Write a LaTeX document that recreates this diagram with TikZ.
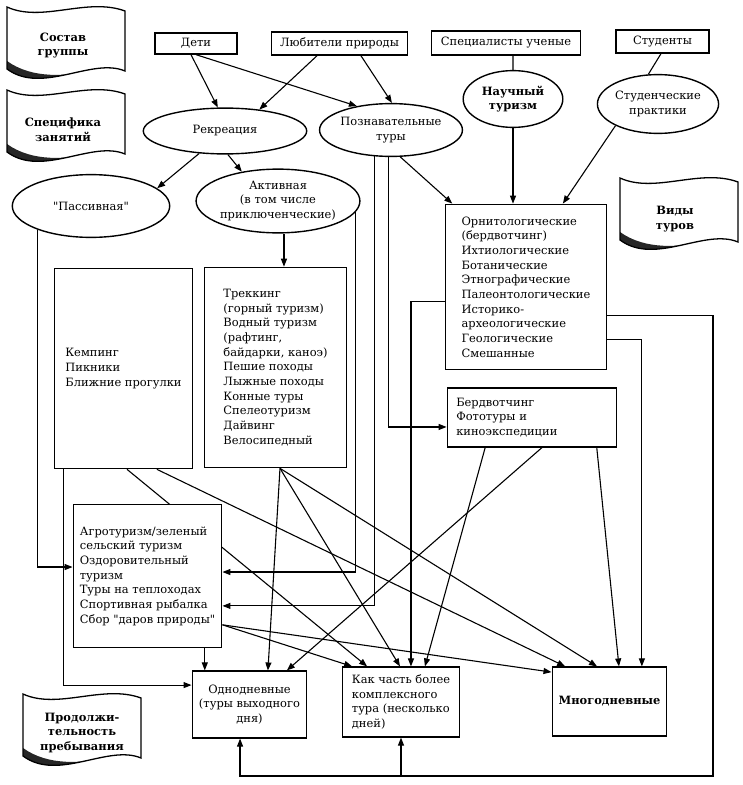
\documentclass[tikz,border=0pt]{standalone}
\usepackage{fontspec}
\setmainfont{DejaVu Serif}
\usetikzlibrary{shapes.geometric,arrows.meta}

\tikzset{
  every node/.style={font=\fontsize{11.5}{14.7}\selectfont},
  tbox/.style={draw, line width=1.4pt, align=left, inner sep=0pt},
  oval/.style={draw, ellipse, line width=1.4pt, align=center, inner sep=0pt},
  flagtext/.style={align=center, font=\fontsize{11.5}{15}\selectfont\bfseries},
  link/.style={line width=1.1pt},
  arr/.style={link, -{Triangle[length=8bp,width=6bp]}},
  flag/.pic={
    \begin{scope}
      \clip (0,2) .. controls (35,18) and (80,-8) .. (118,6) -- (118,66)
        .. controls (85,52) and (35,90) .. (0,64) -- cycle;
      \fill[black!85] (0,56) .. controls (25,74) and (60,72) .. (90,64)
        -- (90,95) -- (0,95) -- cycle;
    \end{scope}
    \draw[line width=1.3pt] (0,2) .. controls (35,18) and (80,-8) .. (118,6) -- (118,66)
      .. controls (85,52) and (35,90) .. (0,64) -- cycle;
  }
}

\begin{document}
\begin{tikzpicture}[x=1bp, y=-1bp]
  \useasboundingbox (0,0) rectangle (743,785);
  %
  % banners
  \pic at (7,5) {flag};
  \node[flagtext] (sostav) at (63,45.5) {Состав\\группы};
  \pic at (7,88) {flag};
  \node[flagtext] (specif) at (63,129.5) {Специфика\\занятий};
  \pic at (620,176) {flag};
  \node[flagtext] (vidy) at (675,219) {Виды\\туров};
  \pic at (23,692) {flag};
  \node[flagtext] (prodol) at (82,733) {Продолжи-\\тельность\\пребывания};
  %
  % top row
  \node[tbox, minimum width=82, minimum height=21] (det) at (196,43.5) {Дети};
  \node[tbox, minimum width=137, minimum height=23] (lyub) at (339.5,43.5) {Любители природы};
  \node[tbox, minimum width=150, minimum height=24] (spec) at (506,43) {Специалисты ученые};
  \node[tbox, minimum width=93, minimum height=23] (stud) at (662.5,41.5) {Студенты};
  %
  % ovals
  \node[oval, minimum width=164, minimum height=46] (rek) at (225,131) {Рекреация};
  \node[oval, minimum width=138, minimum height=53] (poz) at (391,130) {Познавательные\\туры};
  \node[oval, minimum width=100, minimum height=57, font=\fontsize{11.5}{14.7}\selectfont\bfseries] (nauch) at (513,99) {Научный\\туризм};
  \node[oval, minimum width=120, minimum height=59] (studpr) at (658,104) {Студенческие\\практики};
  \node[oval, minimum width=158, minimum height=63] (pass) at (91,206) {\textquotedbl Пассивная\textquotedbl};
  \node[oval, minimum width=154, minimum height=64] (akt) at (278,201) {Активная\\(в том числе\\приключенческие)};
  %
  % lists
  \node[tbox, minimum width=139, minimum height=201] (kemp) at (123.5,368.5)
    {Кемпинг\\Пикники\\Ближние прогулки};
  \node[tbox, minimum width=143, minimum height=201] (trek) at (275.5,367.5)
    {Треккинг\\(горный туризм)\\Водный туризм\\(рафтинг,\\байдарки, каноэ)\\Пешие походы\\Лыжные походы\\Конные туры\\Спелеотуризм\\Дайвинг\\Велосипедный};
  \node[tbox, minimum width=162, minimum height=166] (orn) at (526,287)
    {Орнитологические\\(бердвотчинг)\\Ихтиологические\\Ботанические\\Этнографические\\Палеонтологические\\Историко-\\археологические\\Геологические\\Смешанные};
  \node[tbox, minimum height=59, text width=152, inner xsep=9] (berd) at (532,417.5)
    {Бердвотчинг\\Фототуры и\\киноэкспедиции};
  \node[tbox, minimum width=149, minimum height=144, fill=white] (agro) at (147.5,576)
    {Агротуризм/зеленый\\сельский туризм\\Оздоровительный\\туризм\\Туры на теплоходах\\Спортивная рыбалка\\Сбор \textquotedbl даров природы\textquotedbl};
  %
  % duration
  \node[tbox, align=center, minimum width=115, minimum height=67] (odn) at (249.5,704.5)
    {Однодневные\\(туры выходного\\дня)};
  \node[tbox, minimum width=118, minimum height=70] (kak) at (401,702)
    {Как часть более\\комплексного\\тура (несколько\\дней)};
  \node[tbox, minimum width=115, minimum height=69, font=\fontsize{11.5}{14.7}\selectfont\bfseries] (mnog) at (609.5,701.5)
    {Многодневные};
  %
  \coordinate (loop) at (713,776);
  \coordinate (aktb) at ([xshift=6]akt.south);
  \coordinate (agrob) at ([xshift=57.5]agro.south);
  %
  % top links
  \draw[arr] ([xshift=-5]det.south) -- (rek.107);
  \draw[arr] (det.south) -- (poz.145);
  \draw[arr] ([xshift=-22.5]lyub.south) -- (rek.32);
  \draw[arr] ([xshift=21.5]lyub.south) -- (poz.88);
  \draw[link] ([xshift=7]spec.south) -- (nauch.north);
  \draw[link] ([xshift=-1.5]stud.south) -- (studpr.108);
  \draw[arr] (nauch.south) -- (nauch.south |- orn.north);
  \draw[arr] (studpr.207) -- ([xshift=37]orn.north);
  \draw[arr] (poz.289) -- ([xshift=-74]orn.north);
  \draw[arr] (rek.221) -- (pass.15);
  \draw[arr] (rek.277) -- (akt.141);
  \draw[arr] (aktb) -- (aktb |- trek.north);
  %
  % side links
  \draw[arr] (pass.204) |- ([yshift=9]agro.west);
  \draw[arr] (akt.-8) |- ([yshift=4]agro.east);
  \draw[arr] (poz.238) |- ([yshift=-30]agro.east);
  \draw[arr] (poz.264) |- ([yshift=-9.5]berd.west);
  \draw[arr] ([yshift=-15]orn.west) -| ([xshift=10]kak.north);
  \draw[arr] ([yshift=-53]orn.east) -| ([xshift=32.5]mnog.north);
  \draw[arr] ([yshift=-29]orn.east) -| (loop) -| ([xshift=-9.5]odn.south);
  \draw[arr] (kak.south |- loop) -- (kak.south);
  %
  % to duration
  \draw[arr] ([xshift=-60.5]kemp.south) |- ([yshift=19.5]odn.west);
  \draw[arr] ([xshift=3.5]kemp.south) -- ([xshift=-34]kak.north);
  \draw[arr] ([xshift=33.5]kemp.south) -- ([xshift=-44.5]mnog.north);
  \draw[arr] ([xshift=4.5]trek.south) -- ([xshift=18.5]odn.north);
  \draw[arr] ([xshift=4.5]trek.south) -- ([xshift=-1]kak.north);
  \draw[arr] ([xshift=4.5]trek.south) -- ([xshift=-12.5]mnog.north);
  \draw[arr] (agrob) -- (agrob |- odn.north);
  \draw[arr] ([yshift=-49]agro.east) -- ([xshift=-49]kak.north);
  \draw[arr] ([yshift=-49]agro.east) -- ([yshift=29.5]mnog.west);
  \draw[arr] ([xshift=-47]berd.south) -- ([xshift=24]kak.north);
  \draw[arr] ([xshift=10]berd.south) -- ([xshift=37.5]odn.north);
  \draw[arr] ([xshift=65]berd.south) -- ([xshift=9.5]mnog.north);
  %
  % box drawn again over the line behind it
  \node[tbox, minimum width=149, minimum height=144, fill=white] at (agro)
    {Агротуризм/зеленый\\сельский туризм\\Оздоровительный\\туризм\\Туры на теплоходах\\Спортивная рыбалка\\Сбор \textquotedbl даров природы\textquotedbl};
\end{tikzpicture}
\end{document}
